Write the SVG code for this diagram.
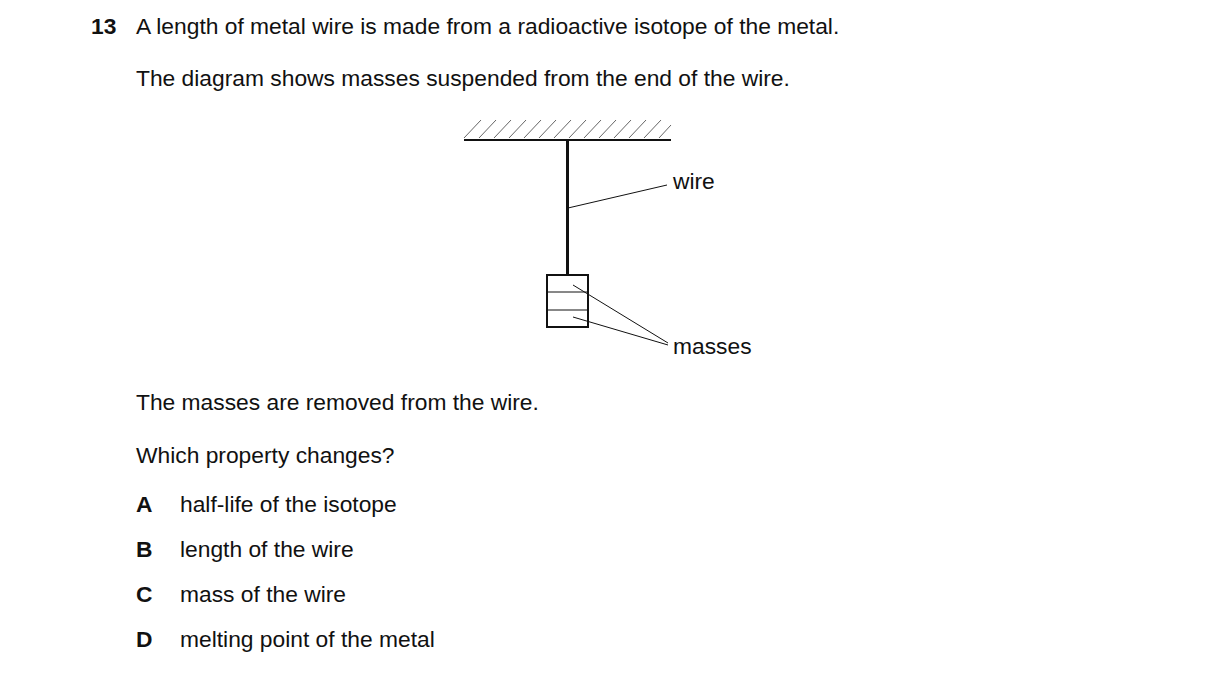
<svg xmlns="http://www.w3.org/2000/svg" width="1216" height="676" viewBox="0 0 1216 676">
<style>
text{font-family:"Liberation Sans",Arial,sans-serif;font-size:22.8px;fill:#111}
.b{font-weight:bold}
.thin{stroke:#111;stroke-width:1;fill:none}
.hatch{stroke:#666;stroke-width:1}
</style>
<rect width="1216" height="676" fill="#fff"/>
<text x="91" y="34" class="b">13</text>
<text x="136" y="34">A length of metal wire is made from a radioactive isotope of the metal.</text>
<text x="136" y="86">The diagram shows masses suspended from the end of the wire.</text>
<g id="ceiling">
<g class="hatch">
<line x1="464" y1="138" x2="481" y2="120"/><line x1="479" y1="138" x2="496" y2="120"/>
<line x1="494" y1="138" x2="511" y2="120"/><line x1="509" y1="138" x2="526" y2="120"/>
<line x1="524" y1="138" x2="541" y2="120"/><line x1="539" y1="138" x2="556" y2="120"/>
<line x1="554" y1="138" x2="571" y2="120"/><line x1="569" y1="138" x2="586" y2="120"/>
<line x1="584" y1="138" x2="601" y2="120"/><line x1="599" y1="138" x2="616" y2="120"/>
<line x1="614" y1="138" x2="631" y2="120"/><line x1="629" y1="138" x2="646" y2="120"/>
<line x1="644" y1="138" x2="661" y2="120"/><line x1="659" y1="138" x2="671" y2="125"/>
</g>
<line x1="464" y1="140" x2="671" y2="140" stroke="#111" stroke-width="2"/>
</g>
<g id="wire"><line x1="567.5" y1="140" x2="567.5" y2="275" stroke="#111" stroke-width="3"/></g>
<g id="masses">
<rect x="547" y="275" width="41" height="52" fill="none" stroke="#111" stroke-width="2"/>
<line x1="547" y1="292" x2="588" y2="292" class="thin"/>
<line x1="547" y1="310" x2="588" y2="310" class="thin"/>
</g>
<g id="connectors">
<line x1="568" y1="208" x2="667" y2="185" class="thin"/>
<line x1="573" y1="285" x2="668" y2="343" class="thin"/>
<line x1="573" y1="317" x2="668" y2="345" class="thin"/>
</g>
<text x="673" y="189">wire</text>
<text x="673" y="354">masses</text>
<text x="136" y="410">The masses are removed from the wire.</text>
<text x="136" y="463">Which property changes?</text>
<text x="136" y="512" class="b">A</text><text x="180" y="512">half-life of the isotope</text>
<text x="136" y="557" class="b">B</text><text x="180" y="557">length of the wire</text>
<text x="136" y="602" class="b">C</text><text x="180" y="602">mass of the wire</text>
<text x="136" y="647" class="b">D</text><text x="180" y="647">melting point of the metal</text>
</svg>
